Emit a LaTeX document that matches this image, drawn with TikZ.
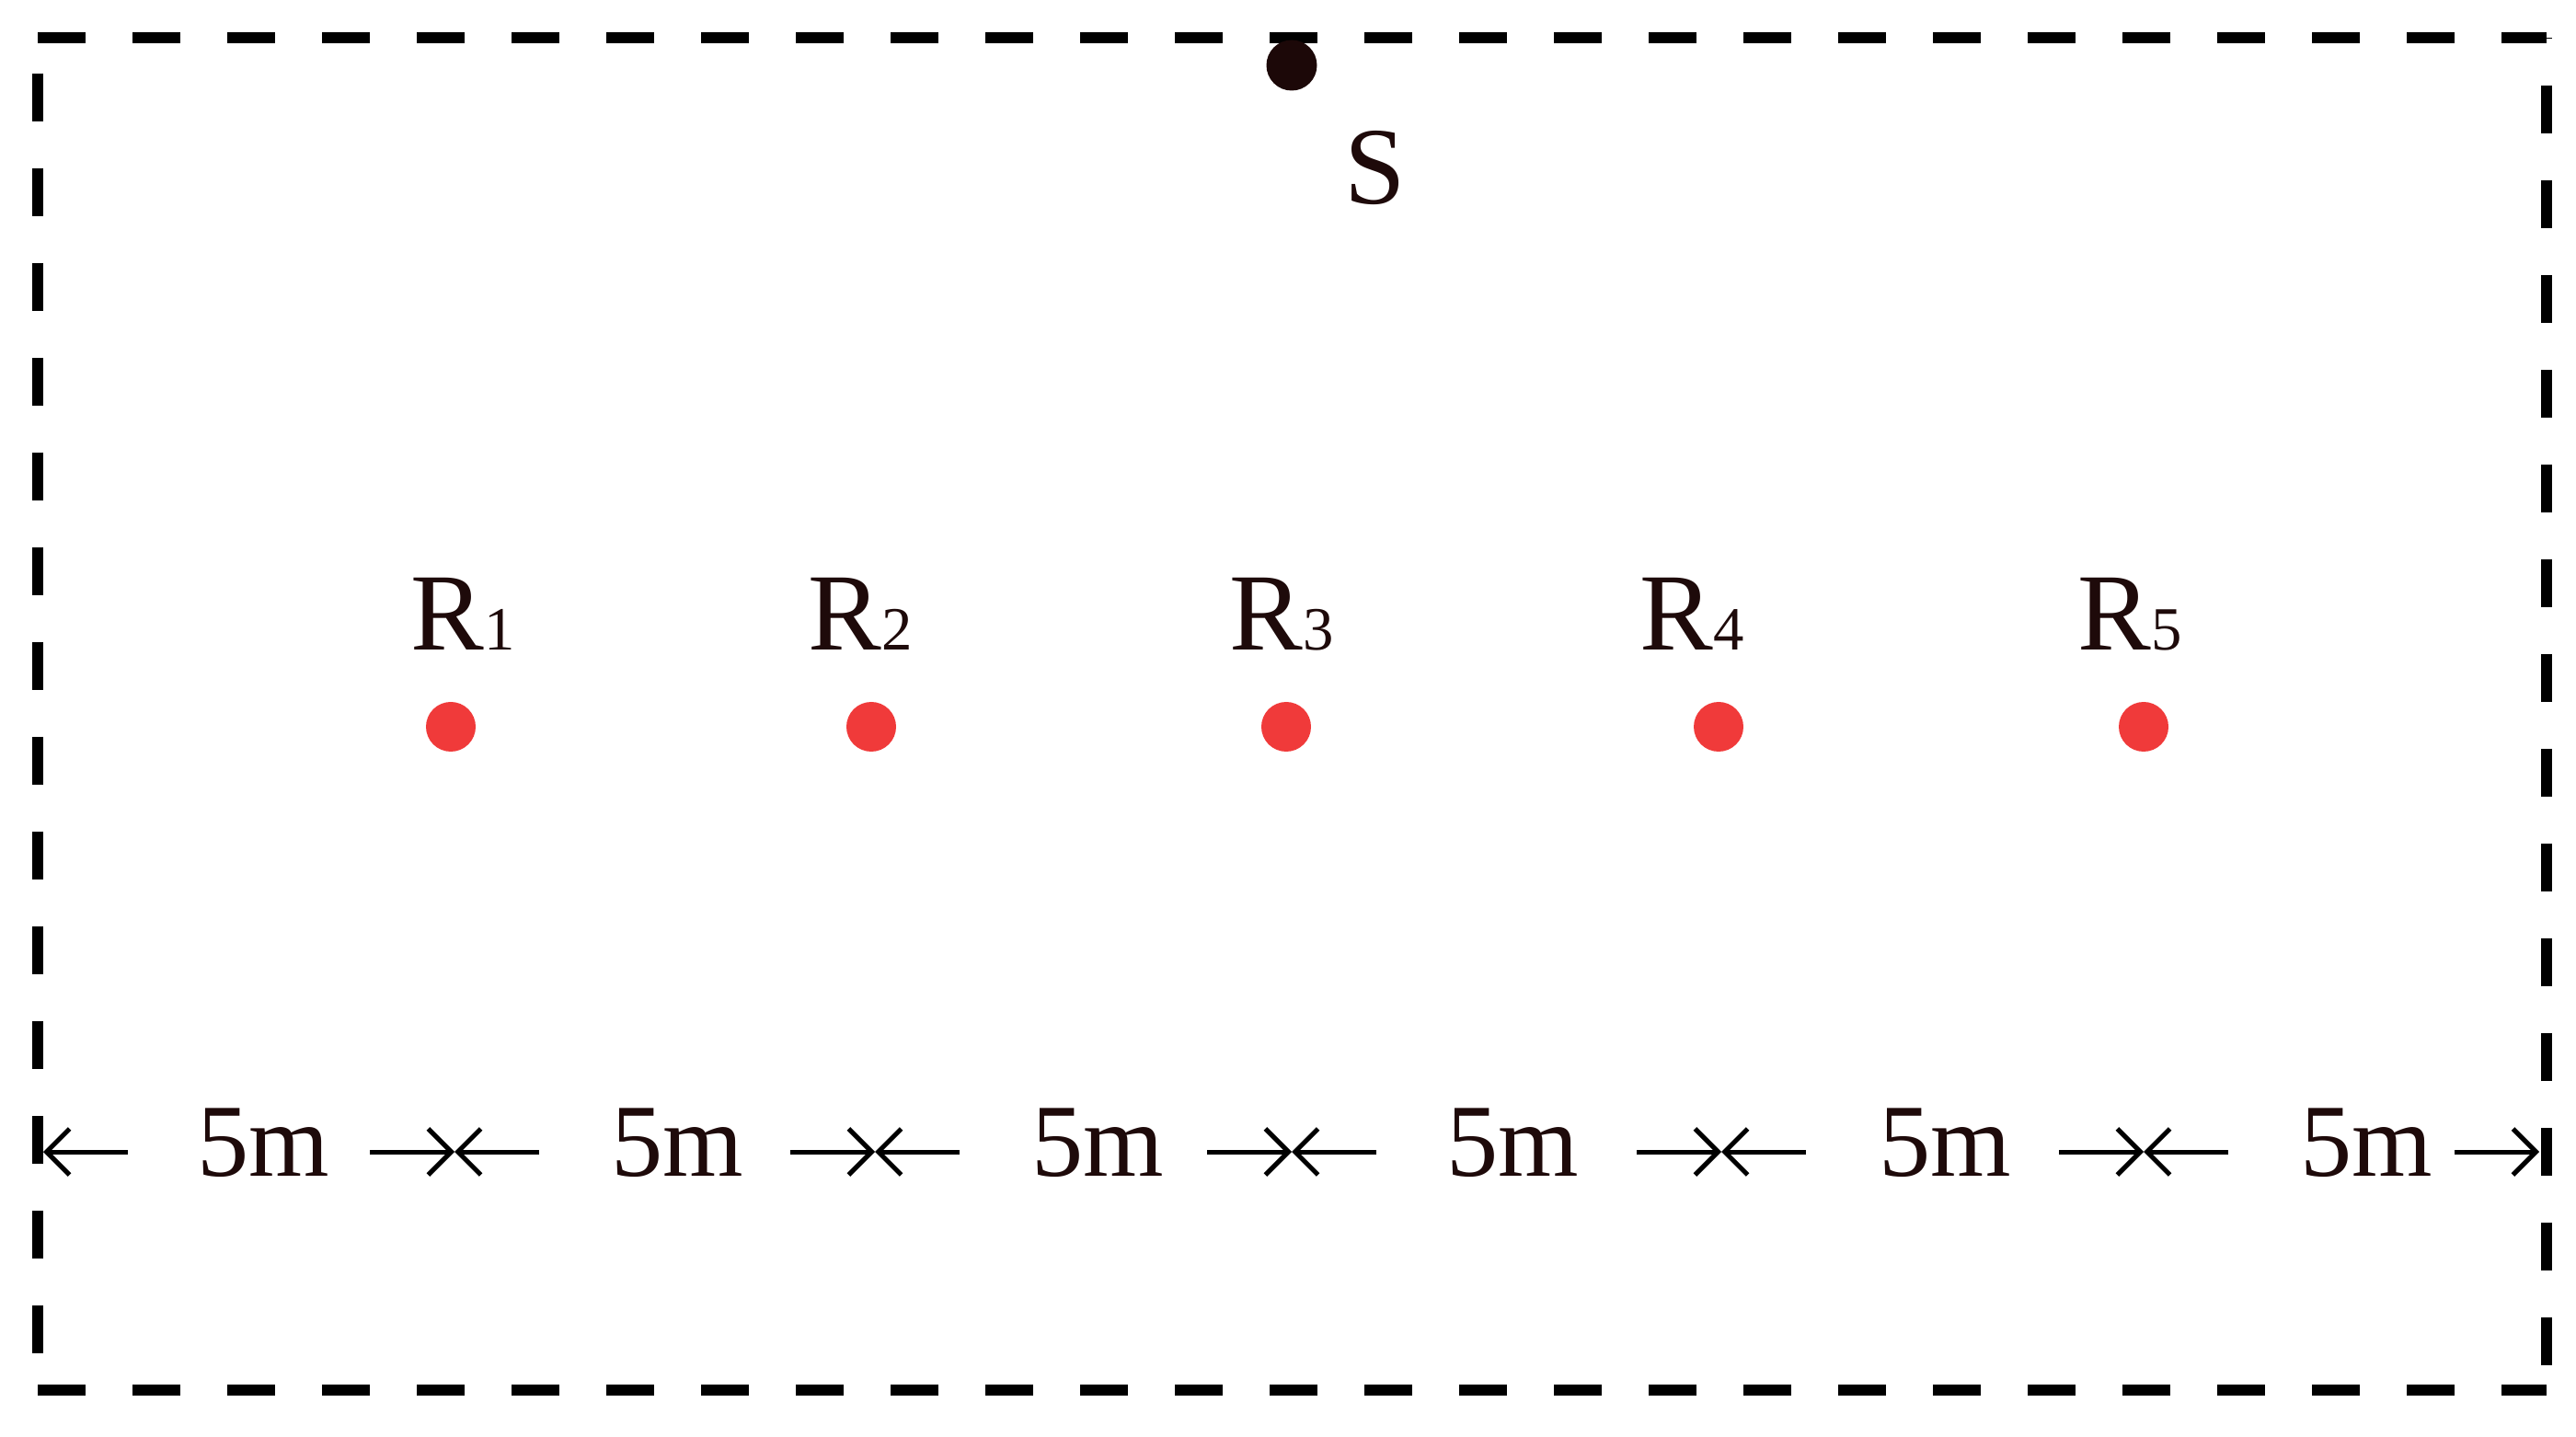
\documentclass[tikz,border=0pt]{standalone}
\usepackage{fontspec}
\setmainfont{Liberation Serif}
\usetikzlibrary{arrows.meta}
\definecolor{txtdark}{RGB}{30,10,10}
\definecolor{srcdark}{RGB}{28,8,8}
\definecolor{rcvred}{RGB}{240,58,58}
\newcommand{\rsub}[1]{{\fontsize{19}{22}\selectfont #1}}

\begin{document}
\begin{tikzpicture}
[every node/.style={inner sep=0pt,text=txtdark}]
\tikzstyle{border}=[line width=0.12cm,dash pattern=on 0.52cm off 0.51cm]
\tikzstyle{srcdot}=[circle,fill=srcdark,minimum size=0.55cm]
\tikzstyle{rcvdot}=[circle,fill=rcvred,minimum size=0.54cm]
\tikzstyle{biglabel}=[anchor=base,font=\fontsize{34}{40}\selectfont]
\tikzstyle{dimlabel}=[anchor=base,font=\fontsize{32}{38}\selectfont]
\tikzstyle{dimarrow}=[line width=0.05cm,-{Straight Barb[length=0.25cm,width=0.5cm]}]
\useasboundingbox (0,0) rectangle (28,15.61);

% dashed frame
\coordinate (tl) at (0.41,15.20);
\coordinate (tr) at (27.68,15.20);
\coordinate (bl) at (0.41,0.50);
\coordinate (br) at (27.68,0.50);
\draw[border] (tl) -- (tr);
\draw[border] (bl) -- (br);
\draw[border,dash phase=0.64cm] (tl) -- (bl);
\draw[border,dash phase=0.76cm] (br) -- (tr);

% source
\node[srcdot] (s) at (14.04,14.90) {};
\node[biglabel] (slabel) at (14.95,13.39) {S};

% receivers
\node[rcvdot] (r1) at (4.90,7.71) {};
\node[rcvdot] (r2) at (9.47,7.71) {};
\node[rcvdot] (r3) at (13.98,7.71) {};
\node[rcvdot] (r4) at (18.68,7.71) {};
\node[rcvdot] (r5) at (23.30,7.71) {};
\node[biglabel] (r1label) at (5.03,8.54) {R\rsub{1}};
\node[biglabel] (r2label) at (9.35,8.54) {R\rsub{2}};
\node[biglabel] (r3label) at (13.93,8.54) {R\rsub{3}};
\node[biglabel] (r4label) at (18.39,8.54) {R\rsub{4}};
\node[biglabel] (r5label) at (23.15,8.54) {R\rsub{5}};

% spacing
\coordinate (b0) at (0.47,3.09);
\coordinate (b1) at (4.94,3.09);
\coordinate (b2) at (9.51,3.09);
\coordinate (b3) at (14.04,3.09);
\coordinate (b4) at (18.71,3.09);
\coordinate (b5) at (23.30,3.09);
\coordinate (b6) at (27.60,3.09);
\foreach \i in {0,...,5}
    \draw[dimarrow] ([xshift=0.92cm]b\i) -- (b\i);
\foreach \i in {1,...,6}
    \draw[dimarrow] ([xshift=-0.92cm]b\i) -- (b\i);
\node[dimlabel] (d1) at (2.86,2.83) {5m};
\node[dimlabel] (d2) at (7.36,2.83) {5m};
\node[dimlabel] (d3) at (11.93,2.83) {5m};
\node[dimlabel] (d4) at (16.44,2.83) {5m};
\node[dimlabel] (d5) at (21.14,2.83) {5m};
\node[dimlabel] (d6) at (25.72,2.83) {5m};
\end{tikzpicture}
\end{document}
